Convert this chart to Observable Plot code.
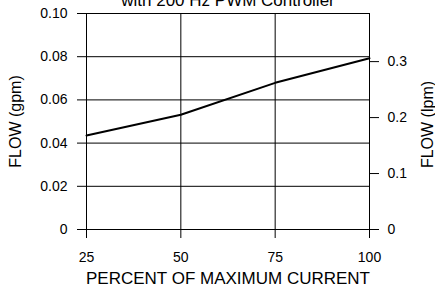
<!DOCTYPE html>
<html><head><meta charset="utf-8">
<script src="https://cdn.jsdelivr.net/npm/d3@7"></script>
<script src="https://cdn.jsdelivr.net/npm/@observablehq/plot@0.6"></script>
<style>body{margin:0;background:#fff;} svg{overflow:visible}</style>
</head><body><div id="c"></div>
<script>
const percent = [25, 50, 75, 100];
const flowGpm = [0.0435, 0.0531, 0.0679, 0.0793];
const gpmTicks = [0, 0.02, 0.04, 0.06, 0.08, 0.10];
const gpmTickLabels = ["0", "0.02", "0.04", "0.06", "0.08", "0.10"];
const lpmTicks = [0, 0.1, 0.2, 0.3];
const lpmTickLabels = ["0", "0.1", "0.2", "0.3"];
const lpmPerGpm = 3.86;
const title = "with 200 Hz PWM Controller";
const xLabel = "PERCENT OF MAXIMUM CURRENT";
const yLabelLeft = "FLOW (gpm)";
const yLabelRight = "FLOW (lpm)";

const data = percent.map((p, i) => ({p, f: flowGpm[i]}));
const chart = Plot.plot({
  width: 435, height: 284,
  marginLeft: 86, marginRight: 66, marginTop: 13, marginBottom: 55,
  style: {fontFamily: "'Liberation Sans', Arial, sans-serif", fontSize: "14px", background: "#fff", color: "#000"},
  x: {domain: [25, 100], axis: null},
  y: {domain: [0, 0.10], axis: null},
  marks: [
    Plot.ruleY(gpmTicks, {stroke: "#000", strokeWidth: 1}),
    Plot.ruleX(percent, {y1: 0, y2: 0.10, stroke: "#000", strokeWidth: 1}),
    Plot.axisX(percent, {anchor: "bottom", tickSize: 9, tickPadding: 14, label: null, tickFormat: d => String(d)}),
    Plot.axisY(gpmTicks, {anchor: "left", tickSize: 9, tickPadding: 10, label: null, tickFormat: (d, i) => gpmTickLabels[i]}),
    Plot.axisY(lpmTicks.map(v => v / lpmPerGpm), {anchor: "right", tickSize: 9, tickPadding: 9, label: null, tickFormat: (d, i) => lpmTickLabels[i]}),
    Plot.line(data, {x: "p", y: "f", stroke: "#000", strokeWidth: 2}),
    Plot.text([title], {frameAnchor: "top", lineAnchor: "top", textAnchor: "middle", dy: -20, fill: "#000", fontSize: 17}),
    Plot.text([xLabel], {frameAnchor: "bottom", lineAnchor: "top", textAnchor: "middle", dy: 42, fill: "#000", fontSize: 17}),
    Plot.text([yLabelLeft], {frameAnchor: "left", textAnchor: "middle", lineAnchor: "middle", dx: -71, rotate: -90, fill: "#000", fontSize: 16}),
    Plot.text([yLabelRight], {frameAnchor: "right", textAnchor: "middle", lineAnchor: "middle", dx: 58, dy: 3, rotate: -90, fill: "#000", fontSize: 16})
  ]
});
document.getElementById("c").appendChild(chart);
</script></body></html>
